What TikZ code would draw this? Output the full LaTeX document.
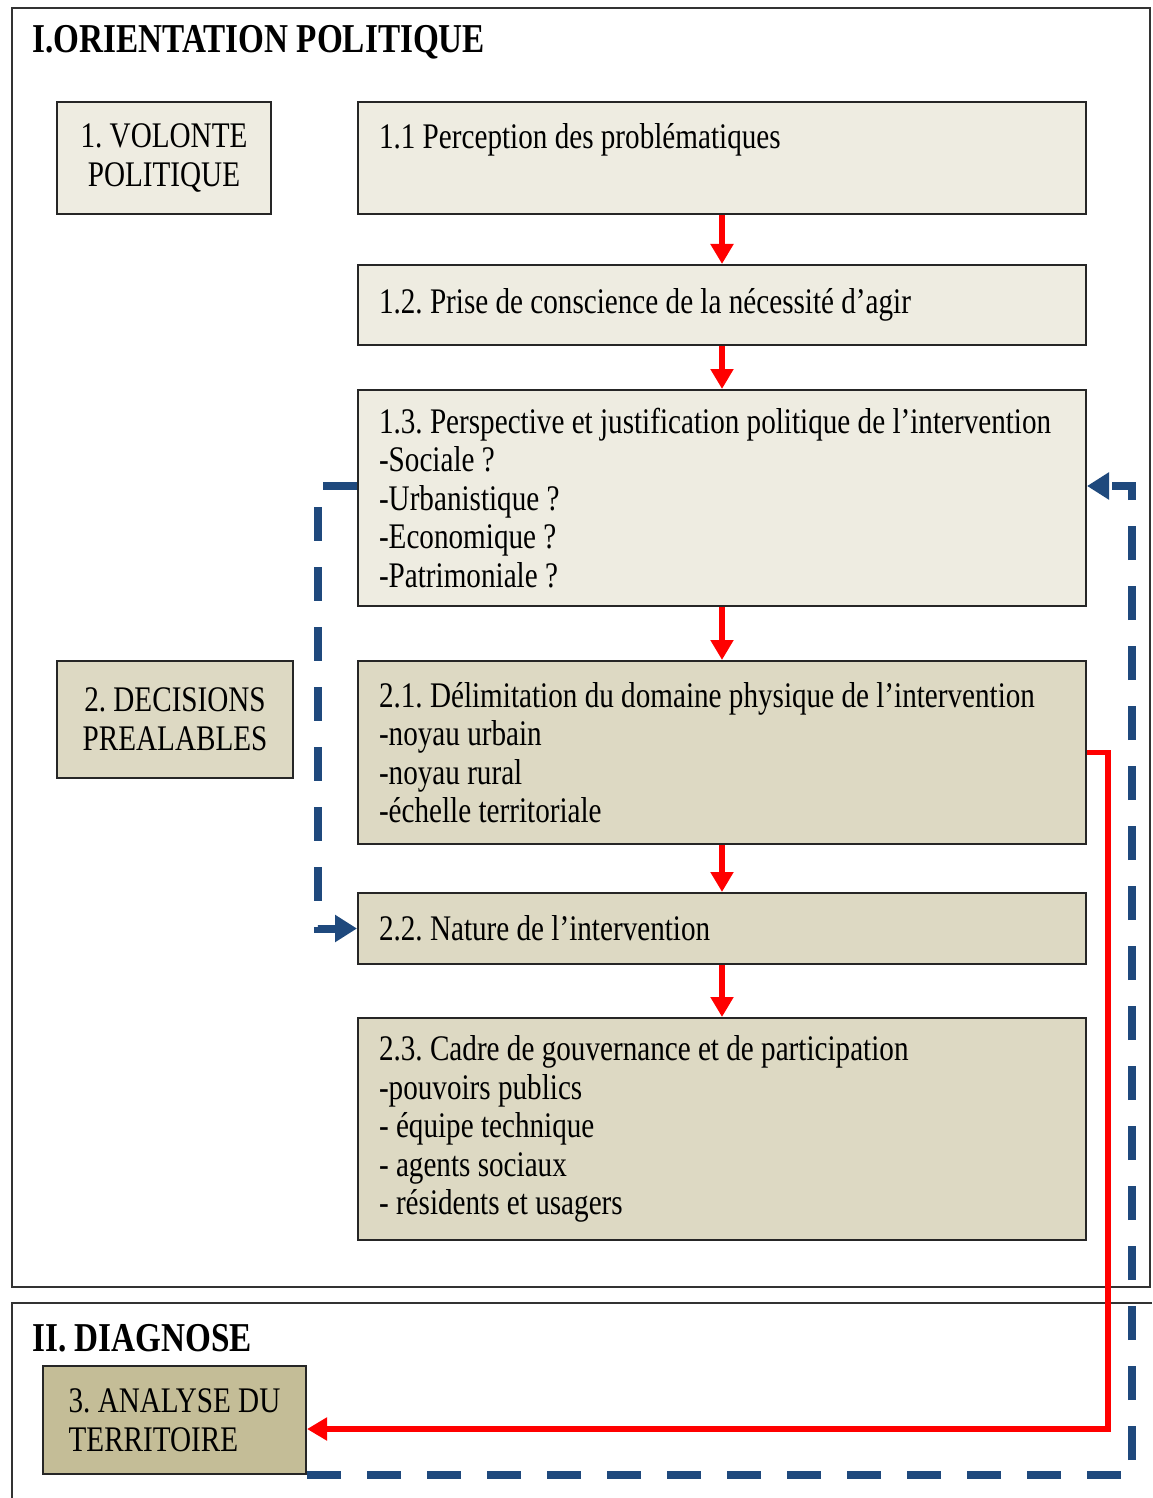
\documentclass[tikz,border=0pt]{standalone}
\usepackage{fontspec}
\setmainfont{Liberation Serif}[FakeStretch=0.81]
\usepackage{tikz}
\usetikzlibrary{arrows.meta}
\frenchspacing

\definecolor{tanlight}{HTML}{EEECE1}
\definecolor{tanmid}{HTML}{DDD9C3}
\definecolor{tandark}{HTML}{C4BD97}
\definecolor{loopblue}{HTML}{1F497D}

\tikzset{
	stepbox/.style={draw=black!85, line width=1pt, anchor=north west, align=flush left,
		text width=343pt, inner xsep=10.5pt, inner ysep=0pt,
		font=\fontsize{18}{19.25}\selectfont},
	phasebox/.style={draw=black!85, line width=1pt, anchor=north west,
		inner sep=0pt, font=\fontsize{18}{19.25}\selectfont},
	redarrow/.style={red, line width=2.75pt, -{Triangle[width=11pt,length=10pt]}},
	bluedash/.style={loopblue, line width=4pt, dash pattern=on 17pt off 13pt,
		-{Triangle[width=13pt,length=11pt]}},
	parttitle/.style={anchor=west, inner sep=0pt, font=\fontsize{20.5}{22}\selectfont\bfseries}
}

\begin{document}
\begin{tikzpicture}[x=0.5pt, y=-0.5pt]
	\useasboundingbox (0,0) rectangle (1152,1498);
	% cadres des deux parties
	\draw[black!80, line width=1pt] (12,8) rectangle (1150,1287);
	\draw[black!80, line width=1pt] (1152,1303) -- (12,1303) -- (12,1498);
	\node[parttitle] (t1) at (32,42) {I.ORIENTATION POLITIQUE};
	\node[parttitle] (t2) at (32,1338) {II. DIAGNOSE};

	% colonne de gauche
	\node[phasebox, fill=tanlight, minimum width=107pt, minimum height=56pt, align=center] (p1) at (56,101) {1. VOLONTE\\POLITIQUE};
	\node[phasebox, fill=tanmid, minimum width=118pt, minimum height=58.5pt, align=center] (p2) at (56,660) {2. DECISIONS\\PREALABLES};
	\node[phasebox, fill=tandark, minimum width=131.5pt, minimum height=54pt, align=flush left] (p3) at (42,1365) {3. ANALYSE DU\\TERRITOIRE};

	% etapes
	\node[stepbox, fill=tanlight, minimum height=56pt] (b11) at (357,101) {1.1 Perception des problématiques\\[3pt] \mbox{}};
	\node[stepbox, fill=tanlight, minimum height=40pt] (b12) at (357,264) {1.2. Prise de conscience de la nécessité d’agir};
	\node[stepbox, fill=tanlight, minimum height=108pt] (b13) at (357,389) {1.3. Perspective et justification politique de l’intervention\\-Sociale ?\\-Urbanistique ?\\-Economique ?\\-Patrimoniale ?};
	\node[stepbox, fill=tanmid, minimum height=91.5pt] (b21) at (357,660) {2.1. Délimitation du domaine physique de l’intervention\\-noyau urbain\\-noyau rural\\-échelle territoriale};
	\node[stepbox, fill=tanmid, minimum height=35.5pt] (b22) at (357,892) {2.2. Nature de l’intervention};
	\node[stepbox, fill=tanmid, minimum height=111pt] (b23) at (357,1017) {2.3. Cadre de gouvernance et de participation\\-pouvoirs publics\\- équipe technique\\- agents sociaux\\- résidents et usagers};

	% enchainement
	\draw[redarrow] (b11) -- (b12);
	\draw[redarrow] (b12) -- (b13);
	\draw[redarrow] (b13) -- (b21);
	\draw[redarrow] (b21) -- (b22);
	\draw[redarrow] (b22) -- (b23);
	\draw[redarrow] (b21.east) -- ++(21,0) |- ([yshift=-4.5pt]p3.east);

	% boucles de retour
	\draw[bluedash] ([yshift=6pt]b13.west) -- ++(-39,0) |- (b22.west);
	\draw[bluedash] (p3.south east) -- ++(825,0) |- ([yshift=6pt]b13.east);
\end{tikzpicture}
\end{document}
